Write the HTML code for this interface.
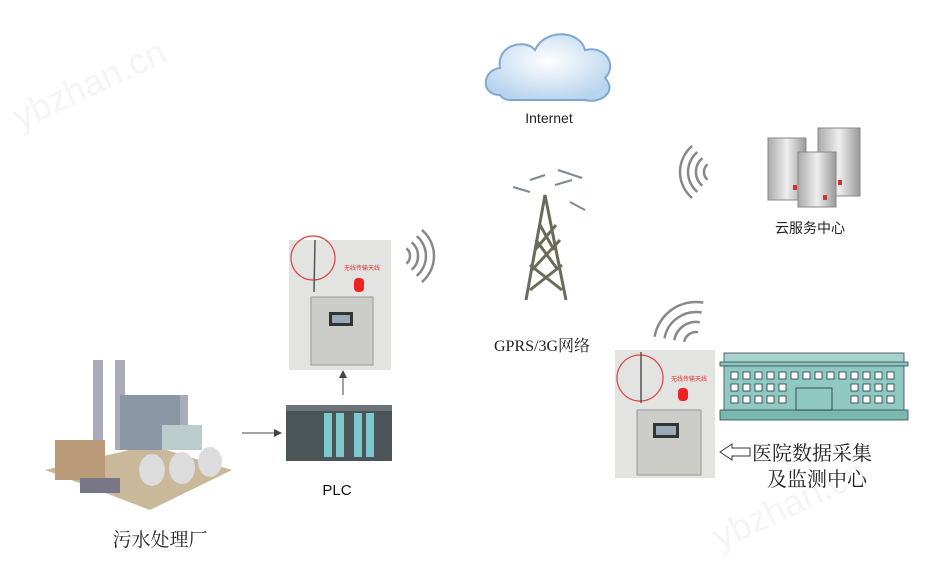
<!DOCTYPE html>
<html><head><meta charset="utf-8"><style>
html,body{margin:0;padding:0;background:#fff;}
svg{display:block;}
text{font-family:"Liberation Sans","Noto Sans CJK SC",sans-serif;}
.serif{font-family:"Liberation Serif","Noto Serif CJK SC",serif;}
</style></head><body>
<svg width="936" height="574" viewBox="0 0 936 574" xmlns="http://www.w3.org/2000/svg">
<defs>
<radialGradient id="cl" cx="50%" cy="40%" r="60%"><stop offset="0" stop-color="#fff"/><stop offset="1" stop-color="#b9d4ee"/></radialGradient>
<linearGradient id="sv" x1="0" x2="1"><stop offset="0" stop-color="#aaa"/><stop offset=".5" stop-color="#eee"/><stop offset="1" stop-color="#999"/></linearGradient>
</defs>
<text x="20" y="130" font-size="36" fill="#f5f5f5" transform="rotate(-25 20 130)">ybzhan.cn</text>
<text x="720" y="550" font-size="36" fill="#f5f5f5" transform="rotate(-25 720 550)">ybzhan.cn</text>

<path d="M500 95 C480 95 482 70 500 68 C496 45 525 38 535 50 C545 28 580 30 585 50 C605 45 618 65 605 78 C618 92 600 104 585 100 L510 100 C505 100 502 98 500 95 Z" fill="url(#cl)" stroke="#7fa7d0" stroke-width="2"/>
<text x="549" y="123" font-size="14" text-anchor="middle" fill="#222">Internet</text>

<g stroke="#6b6b5a" stroke-width="3" fill="none">
<path d="M526 300 L545 195 L566 300"/><path d="M532 270 L560 240 M558 270 L536 240 M535 250 L556 225 M554 250 L540 225 M530 290 L562 265 M562 290 L530 265"/>
</g>
<g stroke="#7a8a90" stroke-width="2"><path d="M513 187 L530 192 M555 185 L572 180 M570 202 L585 210 M530 180 L545 175 M558 170 L582 178"/></g>
<text x="542" y="351" class="serif" font-size="16" text-anchor="middle" fill="#222">GPRS/3G网络</text>

<g fill="none" stroke="#888" stroke-width="2.5">
<path d="M406.4 248.3 A10 10 0 0 1 406.4 263.7"/><path d="M411.6 242.2 A18 18 0 0 1 411.6 269.8"/><path d="M416.7 236.1 A26 26 0 0 1 416.7 275.9"/><path d="M421.9 230 A34 34 0 0 1 421.9 282"/>
<path d="M707.6 164.3 A10 10 0 0 0 707.6 179.7"/><path d="M702.4 158.2 A18 18 0 0 0 702.4 185.8"/><path d="M697.3 152.1 A26 26 0 0 0 697.3 191.9"/><path d="M692.1 146 A34 34 0 0 0 692.1 198"/>
<path d="M684.2 341.9 A12 12 0 0 1 698.1 332.2"/><path d="M674.3 340.2 A22 22 0 0 1 699.8 322.3"/><path d="M664.5 338.4 A32 32 0 0 1 701.6 312.5"/><path d="M654.6 336.7 A42 42 0 0 1 703.3 302.6"/>
</g>

<g stroke="#888" stroke-width="1">
<rect x="768" y="138" width="38" height="62" fill="url(#sv)"/>
<rect x="818" y="128" width="42" height="68" fill="url(#sv)"/>
<rect x="798" y="152" width="38" height="55" fill="url(#sv)"/>
</g>
<rect x="793" y="185" width="4" height="5" fill="#c33"/><rect x="838" y="180" width="4" height="5" fill="#c33"/><rect x="823" y="195" width="4" height="5" fill="#c33"/>
<text x="810" y="233" font-size="14" text-anchor="middle" fill="#222">云服务中心</text>

<rect x="289" y="240" width="102" height="130" fill="#e3e3e1"/>
<circle cx="313" cy="258" r="22" fill="none" stroke="#d44" stroke-width="1.2"/>
<line x1="315" y1="240" x2="314" y2="292" stroke="#555" stroke-width="1.5"/>
<text x="344" y="270" font-size="6" fill="#d33">无线传输天线</text>
<rect x="354" y="278" width="10" height="14" rx="4" fill="#e22"/>
<rect x="311" y="297" width="62" height="68" fill="#ccccc8" stroke="#999"/>
<rect x="329" y="312" width="24" height="14" fill="#333"/><rect x="332" y="315" width="18" height="8" fill="#9ab"/>
<line x1="343" y1="395" x2="343" y2="375" stroke="#444"/><path d="M339 378 L343 370 L347 378Z" fill="#444"/>

<rect x="286" y="405" width="106" height="56" fill="#4b5558"/>
<rect x="286" y="405" width="106" height="6" fill="#6a7478"/>
<g fill="#7cc8cc"><rect x="324" y="413" width="8" height="44"/><rect x="336" y="413" width="8" height="44"/><rect x="354" y="413" width="8" height="44"/><rect x="366" y="413" width="8" height="44"/></g>
<text x="337" y="495" font-size="15" text-anchor="middle" fill="#111">PLC</text>
<line x1="242" y1="433" x2="276" y2="433" stroke="#444"/><path d="M274 429 L282 433 L274 437Z" fill="#444"/>

<g>
<path d="M45 470 L150 445 L232 470 L150 510 Z" fill="#c9b89a"/>
<rect x="93" y="360" width="10" height="95" fill="#aab"/><rect x="115" y="360" width="10" height="90" fill="#aab"/>
<rect x="120" y="395" width="60" height="55" fill="#8a98a6"/>
<rect x="55" y="440" width="50" height="40" fill="#b89a78"/>
<rect x="180" y="395" width="8" height="55" fill="#aab"/>
<rect x="162" y="425" width="40" height="25" fill="#bcc"/>
<ellipse cx="152" cy="470" rx="13" ry="16" fill="#dcdcdc"/><ellipse cx="182" cy="468" rx="13" ry="16" fill="#dcdcdc"/><ellipse cx="210" cy="462" rx="12" ry="15" fill="#dcdcdc"/>
<rect x="80" y="478" width="40" height="15" fill="#778"/>
</g>
<text x="160" y="546" class="serif" font-size="19" text-anchor="middle" fill="#222">污水处理厂</text>

<rect x="615" y="350" width="100" height="128" fill="#e3e3e1"/>
<circle cx="640" cy="378" r="23" fill="none" stroke="#d44" stroke-width="1.2"/>
<line x1="641" y1="352" x2="641" y2="403" stroke="#555" stroke-width="1.5"/>
<text x="671" y="381" font-size="6" fill="#d33">无线传输天线</text>
<rect x="678" y="388" width="10" height="13" rx="4" fill="#e22"/>
<rect x="637" y="410" width="64" height="65" fill="#ccccc8" stroke="#999"/>
<rect x="653" y="423" width="26" height="15" fill="#333"/><rect x="656" y="426" width="20" height="9" fill="#9ab"/>

<rect x="724" y="353" width="180" height="10" fill="#a8d4cc" stroke="#345" stroke-width=".8"/>
<rect x="720" y="362" width="188" height="4" fill="#8cc7be" stroke="#345" stroke-width=".8"/>
<rect x="724" y="366" width="180" height="46" fill="#8fc9c0" stroke="#345" stroke-width=".8"/>
<rect x="720" y="410" width="188" height="10" fill="#79b8ad" stroke="#345" stroke-width=".8"/>
<g fill="#fff" stroke="#234" stroke-width=".8">
<rect x="731" y="372" width="7" height="7"/><rect x="743" y="372" width="7" height="7"/><rect x="755" y="372" width="7" height="7"/><rect x="767" y="372" width="7" height="7"/><rect x="779" y="372" width="7" height="7"/><rect x="791" y="372" width="7" height="7"/><rect x="803" y="372" width="7" height="7"/><rect x="815" y="372" width="7" height="7"/><rect x="827" y="372" width="7" height="7"/><rect x="839" y="372" width="7" height="7"/><rect x="851" y="372" width="7" height="7"/><rect x="863" y="372" width="7" height="7"/><rect x="875" y="372" width="7" height="7"/><rect x="887" y="372" width="7" height="7"/>
<rect x="731" y="384" width="7" height="7"/><rect x="743" y="384" width="7" height="7"/><rect x="755" y="384" width="7" height="7"/><rect x="767" y="384" width="7" height="7"/><rect x="779" y="384" width="7" height="7"/><rect x="851" y="384" width="7" height="7"/><rect x="863" y="384" width="7" height="7"/><rect x="875" y="384" width="7" height="7"/><rect x="887" y="384" width="7" height="7"/>
<rect x="731" y="396" width="7" height="7"/><rect x="743" y="396" width="7" height="7"/><rect x="755" y="396" width="7" height="7"/><rect x="767" y="396" width="7" height="7"/><rect x="779" y="396" width="7" height="7"/><rect x="851" y="396" width="7" height="7"/><rect x="863" y="396" width="7" height="7"/><rect x="875" y="396" width="7" height="7"/><rect x="887" y="396" width="7" height="7"/>
</g>
<rect x="796" y="388" width="36" height="22" fill="#8fc9c0" stroke="#234" stroke-width=".8"/>
<path d="M720 452 L732 444 L732 448 L750 448 L750 456 L732 456 L732 460 Z" fill="#fff" stroke="#333" stroke-width="1"/>
<text x="752" y="460" class="serif" font-size="20" fill="#222">医院数据采集</text>
<text x="767" y="486" class="serif" font-size="20" fill="#222">及监测中心</text>
</svg>
</body></html>
